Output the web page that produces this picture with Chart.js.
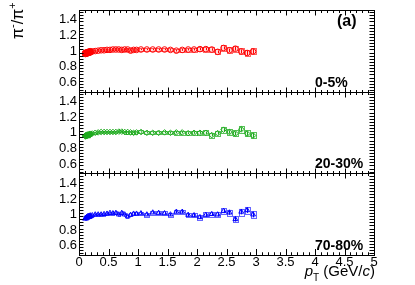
<!DOCTYPE html>
<html>
<head>
<meta charset="utf-8">
<script src="https://cdn.jsdelivr.net/npm/chart.js@4.4.1/dist/chart.umd.min.js"></script>
<style>
  html, body { margin: 0; padding: 0; background: #fff; }
  #wrap { width: 415px; height: 285px; }
</style>
</head>
<body>
<div id="wrap"><canvas id="ratioChart"></canvas></div>
<script>
// pT bin centres (GeV/c)
const ptFilled = [0.11, 0.13, 0.15, 0.17, 0.19];
const ptOpen = [0.225, 0.275, 0.325, 0.375, 0.425, 0.475, 0.525, 0.575, 0.625, 0.675, 0.725, 0.775, 0.825, 0.875, 0.925, 0.975,
  1.05, 1.15, 1.25, 1.35, 1.45, 1.55, 1.65, 1.75, 1.85, 1.95, 2.05, 2.15, 2.25, 2.35, 2.45, 2.55, 2.65, 2.75, 2.85, 2.95];

// 0-5%
const central_filled = [0.97, 0.975, 0.98, 0.985, 0.99];
const central_open = [0.995, 1.0, 1.005, 1.01, 1.01, 1.015, 1.015, 1.02, 1.02, 1.02, 1.015, 1.02, 1.02, 1.005, 1.015, 1.015,
  1.02, 1.02, 1.02, 1.02, 1.02, 1.015, 1.005, 1.015, 1.02, 1.02, 1.025, 1.025, 1.02, 0.99, 1.04, 1.01, 1.03, 0.995, 0.975, 0.995];
const central_stat = [0.004, 0.004, 0.004, 0.004, 0.004, 0.005, 0.005, 0.005, 0.005, 0.005, 0.006, 0.006, 0.006, 0.006, 0.007, 0.007,
  0.008, 0.008, 0.009, 0.009, 0.01, 0.01, 0.011, 0.012, 0.012, 0.013, 0.014, 0.015, 0.016, 0.018, 0.02, 0.022, 0.024, 0.026, 0.028, 0.03];
const central_sys = [0.015, 0.015, 0.015, 0.015, 0.015, 0.015, 0.015, 0.015, 0.015, 0.016, 0.016, 0.017, 0.017, 0.018, 0.018, 0.019,
  0.02, 0.02, 0.02, 0.021, 0.021, 0.022, 0.022, 0.023, 0.024, 0.025, 0.028, 0.03, 0.032, 0.034, 0.036, 0.038, 0.04, 0.04, 0.04, 0.04];
const central_filled_sys = [0.015, 0.015, 0.015, 0.015, 0.015];

// 20-30%
const mid_filled = [0.96, 0.965, 0.97, 0.975, 0.98];
const mid_open = [0.99, 1.0, 1.005, 1.01, 1.01, 1.01, 1.01, 1.01, 1.01, 1.015, 1.015, 1.01, 1.01, 1.005, 1.0, 1.005,
  1.01, 1.0, 1.0, 1.0, 1.005, 1.0, 1.005, 1.005, 0.995, 1.0, 1.0, 1.0, 0.97, 0.995, 1.04, 1.01, 0.99, 1.045, 0.99, 0.965];
const mid_stat = central_stat;
const mid_sys = [0.015, 0.015, 0.015, 0.015, 0.015, 0.015, 0.015, 0.015, 0.016, 0.016, 0.016, 0.017, 0.017, 0.018, 0.018, 0.019,
  0.02, 0.02, 0.021, 0.021, 0.022, 0.022, 0.023, 0.024, 0.025, 0.026, 0.028, 0.03, 0.032, 0.034, 0.036, 0.038, 0.04, 0.042, 0.04, 0.04];
const mid_filled_sys = [0.015, 0.015, 0.015, 0.015, 0.015];

// 70-80%
const periph_filled = [0.95, 0.96, 0.97, 0.975, 0.98];
const periph_open = [0.99, 1.0, 1.0, 1.0, 1.005, 1.01, 1.02, 1.015, 1.02, 1.0, 1.02, 1.0, 0.975, 0.995, 1.01, 1.01,
  1.015, 1.0, 1.025, 1.02, 1.015, 1.0, 1.035, 1.035, 0.995, 0.99, 0.965, 0.995, 1.005, 1.0, 1.045, 1.025, 0.94, 1.035, 1.055, 1.0];
const periph_stat = [0.006, 0.006, 0.006, 0.006, 0.007, 0.007, 0.007, 0.008, 0.008, 0.008, 0.009, 0.009, 0.01, 0.01, 0.011, 0.011,
  0.012, 0.013, 0.014, 0.015, 0.016, 0.017, 0.018, 0.019, 0.02, 0.021, 0.022, 0.023, 0.024, 0.025, 0.027, 0.028, 0.03, 0.032, 0.034, 0.036];
const periph_sys = [0.018, 0.018, 0.018, 0.018, 0.018, 0.018, 0.018, 0.019, 0.019, 0.019, 0.02, 0.02, 0.02, 0.021, 0.021, 0.022,
  0.022, 0.023, 0.023, 0.024, 0.024, 0.025, 0.026, 0.026, 0.027, 0.028, 0.03, 0.031, 0.032, 0.034, 0.036, 0.038, 0.04, 0.042, 0.044, 0.044];
const periph_filled_sys = [0.018, 0.018, 0.018, 0.018, 0.018];

const xTicks = [0, 0.5, 1, 1.5, 2, 2.5, 3, 3.5, 4, 4.5, 5];
const yTicks = [0.6, 0.8, 1, 1.2, 1.4];
const panelLabels = ['0-5%', '20-30%', '70-80%'];

const FONT = "'Liberation Sans', Arial, Helvetica, sans-serif";

const panels = [
  { id: 'yTop', label: panelLabels[0], color: '#ff0000', box: 'rgba(255,0,0,0.6)', boxFill: 'rgba(255,0,0,0.14)', style: 'circle',
    filled: central_filled, open: central_open, stat: central_stat, sys: central_sys, fsys: central_filled_sys },
  { id: 'yMid', label: panelLabels[1], color: '#1faa1f', box: 'rgba(20,170,20,0.7)', boxFill: 'rgba(20,170,20,0.10)', style: 'rectRot',
    filled: mid_filled, open: mid_open, stat: mid_stat, sys: mid_sys, fsys: mid_filled_sys },
  { id: 'yBot', label: panelLabels[2], color: '#0000ff', box: 'rgba(0,0,255,0.6)', boxFill: 'rgba(0,0,255,0.10)', style: 'triangle',
    filled: periph_filled, open: periph_open, stat: periph_stat, sys: periph_sys, fsys: periph_filled_sys }
];

const datasets = [];
panels.forEach(p => {
  datasets.push({
    label: p.label + ' low',
    yAxisID: p.id,
    data: ptFilled.map((x, i) => ({ x: x, y: p.filled[i] })),
    pointStyle: p.style,
    pointRadius: 3.4,
    pointBorderWidth: 1,
    borderColor: p.color,
    backgroundColor: p.color,
    showLine: false
  });
  datasets.push({
    label: p.label,
    yAxisID: p.id,
    data: ptOpen.map((x, i) => ({ x: x, y: p.open[i] })),
    pointStyle: p.style,
    pointRadius: 2.8,
    pointBorderWidth: 1,
    borderColor: p.color,
    backgroundColor: 'rgba(255,255,255,0)',
    showLine: false
  });
});

function fmt(v) { return String(+v.toFixed(1)); }

function yScale(id) {
  return {
    type: 'linear',
    position: 'left',
    stack: 'panels',
    stackWeight: 1,
    min: 0.48,
    max: 1.53,
    afterBuildTicks: s => { s.ticks = yTicks.map(v => ({ value: v })); },
    afterFit: s => { s.width = 79; },
    grid: { display: false, drawTicks: false },
    border: { display: false },
    ticks: { color: '#000', font: { family: FONT, size: 13 }, padding: 2, autoSkip: false, callback: v => fmt(v) }
  };
}

// systematic boxes + stat bars, drawn under the markers
const errorPlugin = {
  id: 'errors',
  beforeDatasetsDraw(chart) {
    const ctx = chart.ctx;
    const xs = chart.scales.x;
    panels.forEach(p => {
      const ys = chart.scales[p.id];
      ctx.save();
      ctx.beginPath();
      ctx.rect(xs.left, ys.top, xs.right - xs.left, ys.bottom - ys.top);
      ctx.clip();
      const all = [];
      ptFilled.forEach((x, i) => all.push({ x, y: p.filled[i], st: 0.004, sy: p.fsys[i], hw: 0.008 }));
      ptOpen.forEach((x, i) => all.push({ x, y: p.open[i], st: p.stat[i], sy: p.sys[i], hw: x < 1 ? 0.02 : 0.042 }));
      ctx.lineWidth = 1;
      all.forEach(d => {
        const x0 = xs.getPixelForValue(d.x - d.hw), x1 = xs.getPixelForValue(d.x + d.hw);
        const y0 = ys.getPixelForValue(d.y + d.sy), y1 = ys.getPixelForValue(d.y - d.sy);
        ctx.fillStyle = p.boxFill;
        ctx.fillRect(x0, y0, x1 - x0, y1 - y0);
        ctx.strokeStyle = p.box;
        ctx.strokeRect(Math.round(x0) + 0.5, Math.round(y0) + 0.5, Math.round(x1 - x0), Math.round(y1 - y0));
      });
      ctx.strokeStyle = p.color;
      all.forEach(d => {
        const px = Math.round(xs.getPixelForValue(d.x)) + 0.5;
        ctx.beginPath();
        ctx.moveTo(px, ys.getPixelForValue(d.y + d.st));
        ctx.lineTo(px, ys.getPixelForValue(d.y - d.st));
        ctx.stroke();
      });
      ctx.restore();
    });
  }
};

// ROOT-like frames with inward ticks, titles and panel labels
const framePlugin = {
  id: 'frame',
  afterDraw(chart) {
    const ctx = chart.ctx;
    const xs = chart.scales.x;
    const L = xs.left, R = xs.right;
    ctx.save();
    ctx.lineWidth = 1;
    ctx.strokeStyle = '#000';
    panels.forEach((p, k) => {
      const ys = chart.scales[p.id];
      const T = Math.round(ys.top) + 0.5, B = Math.round(ys.bottom) + 0.5;
      ctx.strokeRect(Math.round(L) + 0.5, T, Math.round(R - L), B - T);
      ctx.beginPath();
      for (let i = 0; i <= 25; i++) {
        const v = 0.48 + 0.02 + i * 0.04;
        if (v > 1.53) break;
        const py = Math.round(ys.getPixelForValue(v)) + 0.5;
        const len = (Math.abs((v - 0.6) / 0.2 - Math.round((v - 0.6) / 0.2)) < 1e-6) ? 9 : 4.5;
        ctx.moveTo(L, py); ctx.lineTo(L + len, py);
        ctx.moveTo(R, py); ctx.lineTo(R - len, py);
      }
      const lastPanel = k === panels.length - 1;
      for (let i = 0; i <= 50; i++) {
        const v = i * 0.1;
        const px = Math.round(xs.getPixelForValue(v)) + 0.5;
        const len = i % 5 === 0 ? 5 : 2.5;
        const blen = lastPanel ? len * 1.3 : len;
        ctx.moveTo(px, B); ctx.lineTo(px, B - blen);
        ctx.moveTo(px, T); ctx.lineTo(px, T + len);
      }
      ctx.stroke();
      ctx.fillStyle = '#000';
      ctx.font = 'bold 14px ' + FONT;
      ctx.textAlign = 'left';
      ctx.textBaseline = 'alphabetic';
      ctx.fillText(p.label, 315, ys.bottom - 5);
    });

    // (a)
    ctx.font = 'bold 16px ' + FONT;
    ctx.fillText('(a)', 337, 26);

    // y title  pi-/pi+
    ctx.save();
    ctx.translate(23, 39);
    ctx.rotate(-Math.PI / 2);
    let cx = 0;
    const parts = [['π', 16, 0], ['-', 11, -7], ['/π', 16, 0], ['+', 11, -7]];
    parts.forEach(([t, sz, dy]) => {
      ctx.font = sz + 'px ' + FONT;
      ctx.fillText(t, cx, dy);
      cx += ctx.measureText(t).width;
    });
    ctx.restore();

    // x title  p_T (GeV/c)
    const xt = [['p', 'italic 15px ', 0], ['T', '10px ', 5], [' (GeV/', '15px ', 0], ['c', 'italic 15px ', 0], [')', '15px ', 0]];
    let w = 0;
    xt.forEach(([t, f]) => { ctx.font = f + FONT; w += ctx.measureText(t).width; });
    let tx = R + 1 - w;
    xt.forEach(([t, f, dy]) => {
      ctx.font = f + FONT;
      ctx.fillText(t, tx, 276 + dy);
      tx += ctx.measureText(t).width;
    });
    ctx.restore();
  }
};

const scales = {
  x: {
    type: 'linear',
    position: 'bottom',
    min: 0,
    max: 5,
    afterBuildTicks: s => { s.ticks = xTicks.map(v => ({ value: v })); },
    afterFit: s => { s.height = 30; },
    grid: { display: false, drawTicks: false },
    border: { display: false },
    ticks: { color: '#000', font: { family: FONT, size: 13 }, padding: 0, maxRotation: 0, autoSkip: false, callback: v => fmt(v) }
  }
};
// left stacked axes are laid out last-defined first, so add bottom panel first
panels.slice().reverse().forEach(p => { scales[p.id] = yScale(p.id); });

new Chart(document.getElementById('ratioChart'), {
  type: 'scatter',
  data: { datasets: datasets },
  options: {
    responsive: true,
    maintainAspectRatio: false,
    animation: false,
    devicePixelRatio: 1,
    layout: { padding: { top: 2, right: 41, left: 0, bottom: 0 } },
    plugins: { legend: { display: false }, tooltip: { enabled: false } },
    scales: scales
  },
  plugins: [errorPlugin, framePlugin]
});
</script>
</body>
</html>
